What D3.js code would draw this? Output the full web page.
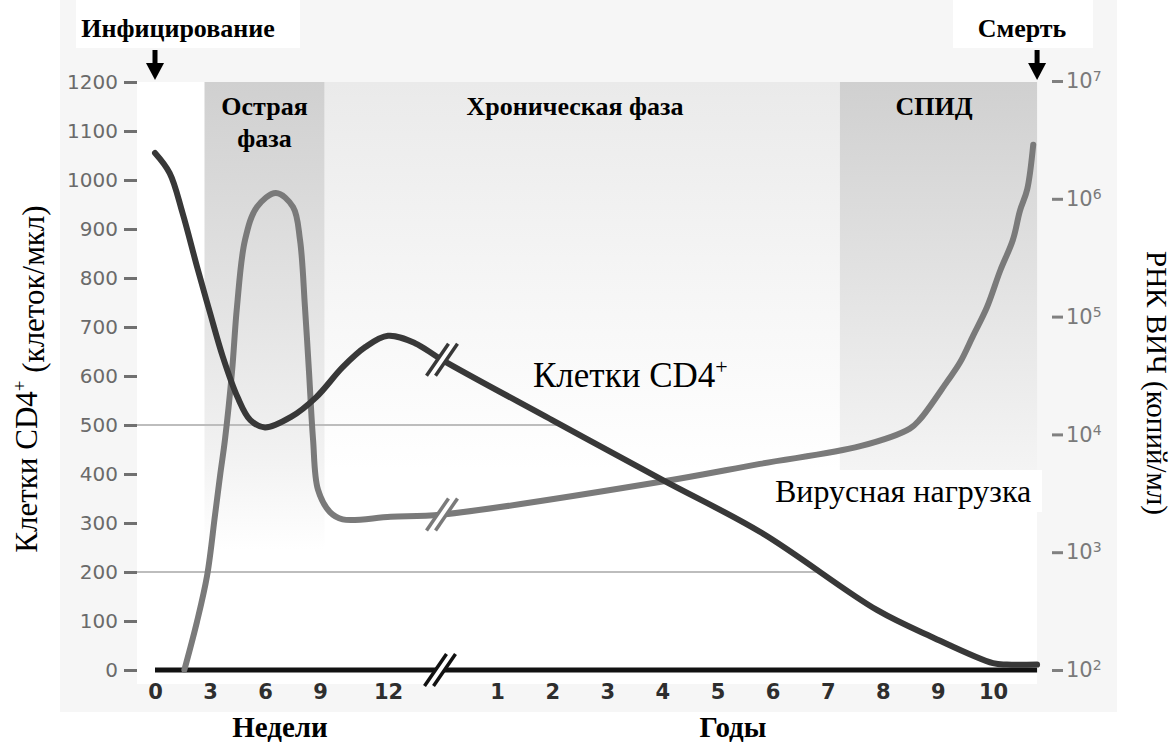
<!DOCTYPE html>
<html><head><meta charset="utf-8">
<script src="https://cdn.jsdelivr.net/npm/d3@7"></script>
<style>body{margin:0;background:#fff}svg{display:block}</style>
</head><body>
<svg id="c" width="1172" height="746"></svg>
<script>
// ---- data ----
const weekTicks = [0, 3, 6, 9, 12];
const yearTicks = [1, 2, 3, 4, 5, 6, 7, 8, 9, 10];
const cd4Ticks = [0, 100, 200, 300, 400, 500, 600, 700, 800, 900, 1000, 1100, 1200];
const vlTicks = [1e2, 1e3, 1e4, 1e5, 1e6, 1e7];
const gridValues = [500, 200];
// CD4 cells/µl : [week, value] then [year, value]
const cd4Weeks = [[0,1055],[0.8,1014],[1.5,933],[2.3,822],[3,729],[3.7,639],[4.5,557],[5.2,510],[6,495],[7.4,516],[8.8,557],[10,618],[11,659],[12,682],[13,667],[14,633]];
const cd4Years = [[0,633],[2,510],[4,388],[5.8,280],[7.9,122],[8.9,67],[10,14],[10.25,11],[10.8,11]];
// viral load copies/ml
const vlWeeks = [[1.6,100],[2.29,257],[2.84,630],[3.27,2040],[3.55,4470],[3.82,9100],[4.2,34000],[4.47,120000],[4.91,447000],[5.56,851000],[6.6,1120000],[7.53,851000],[7.91,447000],[8.18,120000],[8.4,34000],[8.62,9100],[8.89,3390],[9.44,2190],[10,1900],[12.1,2000],[14,2090]];
const vlYears = [[0,2090],[4,3980],[5.77,5620],[7.59,7940],[8.49,11200],[8.68,13500],[9.17,28200],[9.4,40700],[9.64,69000],[9.89,120000],[10.13,245000],[10.36,447000],[10.49,794000],[10.62,1200000],[10.73,2880000]];
const acuteWeeks = [2.7, 9.2];
const aidsYears = [7.22, 10.8];
const breakWeek = 14, endYear = 10.8;

// ---- scales ----
const svg = d3.select("#c");
const xW = d3.scaleLinear().domain([0, 9, 12, breakWeek]).range([155, 320, 388, 442]);
const xY = d3.scaleLinear().domain([0, 10]).range([442, 993]);
const yL = d3.scaleLinear().domain([0, 1200]).range([670, 82]);
const yR = d3.scaleLog().domain([1e2, 1e7]).range([670, 81]);

// ---- backgrounds ----
svg.append("rect").attr("x",60).attr("y",0).attr("width",1057).attr("height",712).attr("fill","#f6f6f6");
svg.append("rect").attr("x",137).attr("y",yL(1200)).attr("width",xY(endYear)-137).attr("height",yL(0)-yL(1200)+14).attr("fill","#fff");

const defs = svg.append("defs");
function grad(id, stops, y1, y2){
  const g = defs.append("linearGradient").attr("id",id).attr("gradientUnits","userSpaceOnUse")
    .attr("x1",0).attr("x2",0).attr("y1",y1).attr("y2",y2);
  stops.forEach(s=>g.append("stop").attr("offset",s[0]).attr("stop-color",s[1]));
}
grad("gA", [[0,"#d0d0d0"],[0.5,"#e4e4e4"],[0.8,"#f2f2f2"],[1,"#ffffff"]], yL(1200), 550);
grad("gC", [[0,"#eaeaea"],[0.5,"#f5f5f5"],[1,"#ffffff"]], yL(1200), 470);
grad("gS", [[0,"#d0d0d0"],[0.5,"#e2e2e2"],[1,"#f4f4f4"]], yL(1200), 470);

svg.append("rect").attr("x",xW(acuteWeeks[1])).attr("y",yL(1200)).attr("width",xY(aidsYears[0])-xW(acuteWeeks[1])).attr("height",470-yL(1200)).attr("fill","url(#gC)");
svg.append("rect").attr("x",xY(aidsYears[0])).attr("y",yL(1200)).attr("width",xY(aidsYears[1])-xY(aidsYears[0])).attr("height",470-yL(1200)).attr("fill","url(#gS)");
svg.append("rect").attr("x",xW(acuteWeeks[0])).attr("y",yL(1200)).attr("width",xW(acuteWeeks[1])-xW(acuteWeeks[0])).attr("height",550-yL(1200)).attr("fill","url(#gA)");

// white label boxes
svg.append("rect").attr("x",76).attr("y",0).attr("width",224).attr("height",48).attr("fill","#fff");
svg.append("rect").attr("x",953).attr("y",0).attr("width",140).attr("height",48).attr("fill","#fff");
svg.append("rect").attr("x",766).attr("y",470).attr("width",276).attr("height",42).attr("fill","#fff");

// ---- points ----
const cd4Pts = cd4Weeks.map(d=>[xW(d[0]), yL(d[1])]).concat(cd4Years.map(d=>[xY(d[0]), yL(d[1])]));
const vlPts = vlWeeks.map(d=>[xW(d[0]), yR(d[1])]).concat(vlYears.map(d=>[xY(d[0]), yR(d[1])]));
function dedupe(p){ return p.filter((d,i)=> i===0 || d[0] > p[i-1][0] + 0.01); }

// gridlines end where CD4 crosses value
function crossX(v){
  for(let i=1;i<cd4Years.length;i++){
    const a=cd4Years[i-1], b=cd4Years[i];
    if(a[1]>=v && b[1]<=v){ return xY(a[0] + (a[1]-v)/(a[1]-b[1])*(b[0]-a[0])); }
  }
  return xY(endYear);
}
gridValues.forEach(v=>{
  svg.append("line").attr("x1",137).attr("x2",crossX(v)).attr("y1",yL(v)).attr("y2",yL(v))
    .attr("stroke","#bdbdbd").attr("stroke-width",2);
});

// baseline
svg.append("line").attr("x1",xW(0)).attr("x2",xY(endYear)).attr("y1",yL(0)).attr("y2",yL(0))
  .attr("stroke","#111").attr("stroke-width",5);

const line = d3.line().curve(d3.curveCatmullRom.alpha(0.5));
svg.append("path").attr("d",line(dedupe(vlPts))).attr("fill","none").attr("stroke","#7a7a7a").attr("stroke-width",6).attr("stroke-linecap","round");
svg.append("path").attr("d",line(dedupe(cd4Pts))).attr("fill","none").attr("stroke","#383838").attr("stroke-width",6).attr("stroke-linecap","round");

// break marks
function breakMark(x, y, color){
  const g = svg.append("g").attr("transform",`translate(${x},${y})`);
  const dx = 11, dy = 16, gap = 4.5;
  g.append("polygon").attr("points",`${-gap-dx},${dy} ${-gap+dx},${-dy} ${gap+dx},${-dy} ${gap-dx},${dy}`).attr("fill","#fff");
  [-gap, gap].forEach(o=>{
    g.append("line").attr("x1",o-dx).attr("y1",dy).attr("x2",o+dx).attr("y2",-dy)
      .attr("stroke",color).attr("stroke-width",3.5);
  });
}
breakMark(xY(0), yL(cd4Years[0][1]), "#383838");
breakMark(xY(0), yR(vlYears[0][1]), "#7a7a7a");
breakMark(xY(0)-2, yL(0), "#111");

// ---- axes ----
const ax = svg.append("g").attr("transform","translate(137,0)")
  .call(d3.axisLeft(yL).tickValues(cd4Ticks).tickSize(13).tickPadding(6).tickFormat(d3.format("d")));
ax.select(".domain").remove();
ax.selectAll(".tick line").attr("stroke","#707070").attr("stroke-width",3);
ax.selectAll(".tick text").attr("fill","#6a6a6a").style("font-family","DejaVu Sans").style("font-size","20px");

const ar = svg.append("g").attr("transform","translate(1052,0)")
  .call(d3.axisRight(yR).tickValues(vlTicks).tickSize(11).tickPadding(3).tickFormat(""));
ar.select(".domain").remove();
ar.selectAll(".tick line").attr("stroke","#808080").attr("stroke-width",3);
ar.selectAll(".tick text").each(function(d){
  const t = d3.select(this).style("font-family","DejaVu Sans").style("font-size","21px").attr("fill","#7a7a7a");
  t.append("tspan").text("10");
  t.append("tspan").attr("dy","-0.5em").style("font-size","14px").text(Math.round(Math.log10(d)));
});

const bw = svg.append("g").attr("transform",`translate(0,${yL(0)})`)
  .call(d3.axisBottom(xW).tickValues(weekTicks).tickSize(0).tickPadding(14));
const by = svg.append("g").attr("transform",`translate(0,${yL(0)})`)
  .call(d3.axisBottom(xY).tickValues(yearTicks).tickSize(0).tickPadding(14));
[bw,by].forEach(g=>{
  g.select(".domain").remove();
  g.selectAll(".tick text").attr("fill","#2e2e2e").style("font-family","DejaVu Sans").style("font-weight","bold").style("font-size","21px");
});

// ---- text ----
const serif = "'Liberation Serif','Times New Roman',serif";
function txt(x,y,s,size,weight,anchor){
  return svg.append("text").attr("x",x).attr("y",y).attr("text-anchor",anchor||"middle")
    .style("font-family",serif).style("font-size",size+"px").style("font-weight",weight||"normal").attr("fill","#000").text(s);
}
txt(178,37,"Инфицирование",26,"bold");
txt(1022,37,"Смерть",26,"bold");
txt((xW(acuteWeeks[0])+xW(acuteWeeks[1]))/2,115,"Острая",26,"bold");
txt((xW(acuteWeeks[0])+xW(acuteWeeks[1]))/2,147,"фаза",26,"bold");
txt(575,115,"Хроническая фаза",26,"bold");
txt(934,115,"СПИД",26,"bold");
txt(280,737,"Недели",29,"bold");
txt(733,737,"Годы",29,"bold");

const cd4Lab = txt(533,387,"Клетки CD4",35,"normal","start");
cd4Lab.append("tspan").attr("dy","-0.6em").style("font-size","22px").text("+");
txt(775,502,"Вирусная нагрузка",32,"normal","start");

const lt = svg.append("text").attr("transform","translate(37,379) rotate(-90)").attr("text-anchor","middle")
  .style("font-family",serif).style("font-size","31px").attr("fill","#000");
lt.append("tspan").text("Клетки CD4");
lt.append("tspan").attr("dy","-0.6em").style("font-size","19px").text("+");
lt.append("tspan").attr("dy","0.6em").text(" (клеток/мкл)");

svg.append("text").attr("transform","translate(1147,383) rotate(90)").attr("text-anchor","middle")
  .style("font-family",serif).style("font-size","29px").attr("fill","#000").text("РНК ВИЧ (копий/мл)");

// ---- arrows ----
[xW(0), xY(endYear)].forEach(x=>{
  svg.append("line").attr("x1",x).attr("x2",x).attr("y1",50).attr("y2",66).attr("stroke","#000").attr("stroke-width",5);
  svg.append("polygon").attr("points",`${x-9},${63} ${x+9},${63} ${x},${80}`).attr("fill","#000");
});
</script>
</body></html>
